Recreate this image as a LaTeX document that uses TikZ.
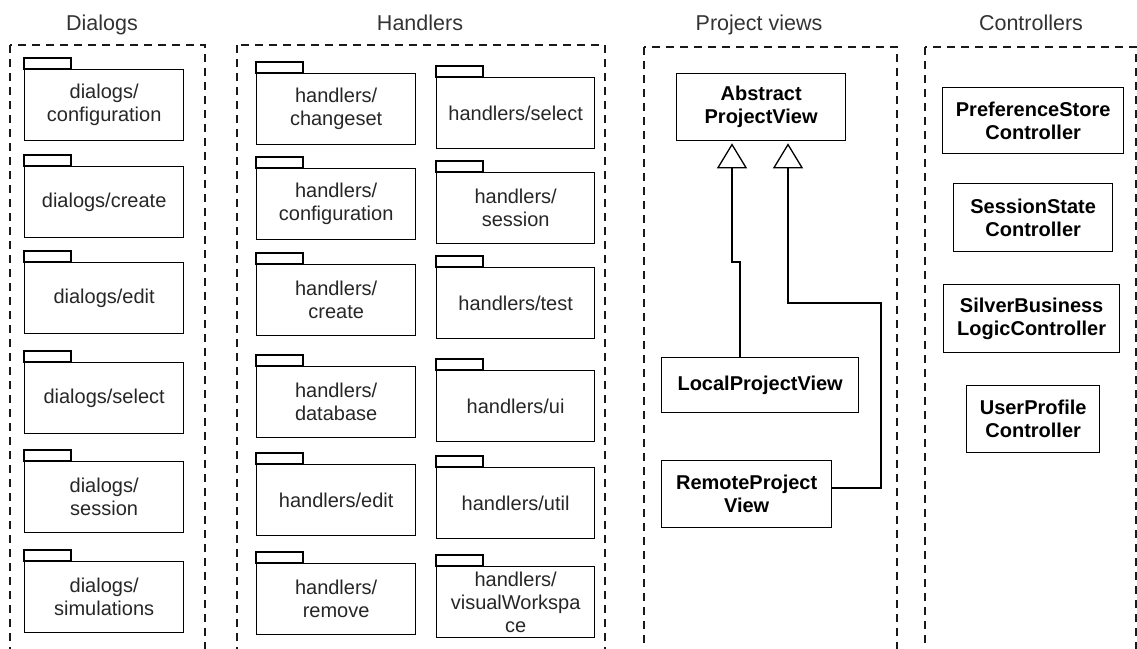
\documentclass[tikz,border=0pt]{standalone}
\usepackage{fontspec}
\setmainfont{Liberation Sans}
\usetikzlibrary{arrows.meta}
\begin{document}
\begin{tikzpicture}[x=1pt,y=-1pt,
  every node/.style={font=\fontsize{20}{23}\selectfont, text=black!85},
  group/.style={draw=black!90, line width=1.3pt, dash pattern=on 8pt off 6pt},
  title/.style={font=\fontsize{21.5}{25}\selectfont, text=black!80, anchor=base},
  pkg/.style={draw, line width=1.3pt, minimum height=71pt, inner sep=0pt,
    align=center, anchor=north west},
  tab/.style={draw, line width=1.3pt},
  cls/.style={draw, line width=1.3pt, inner sep=0pt, align=center,
    anchor=north west, text=black,
    font=\fontsize{20}{23}\selectfont\bfseries},
  inherit/.style={-{Triangle[open, width=30pt, length=25pt, line width=1.3pt]},
    line width=1.3pt, shorten >=2pt}
]
\useasboundingbox (0,0) rectangle (1137,648);
\clip (0,0) rectangle (1137,648);

% group titles
\node[title] (tdlg) at (102,30) {Dialogs};
\node[title] (thnd) at (420,30) {Handlers};
\node[title] (tpv)  at (759,30) {Project views};
\node[title] (tctl) at (1031,30) {Controllers};

% dashed group frames (open at the bottom edge)
\draw[group] (10,45) rectangle (205,670);
\draw[group] (237,45) rectangle (605,670);
\draw[group] (644,47) rectangle (897,670);
\draw[group] (925,47) rectangle (1136,670);

% package folder: name, body corner, width, label
\newcommand\folder[4]{%
  \node[pkg, minimum width=#3] (#1) at (#2) {#4};
  \draw[tab] (#1.north west) rectangle ++(47,-11);
}

% dialogs
\folder{d1}{24,69}{159pt}{dialogs/\\configuration}
\folder{d2}{24,166}{159pt}{dialogs/create}
\folder{d3}{24,262}{159pt}{dialogs/edit}
\folder{d4}{24,362}{159pt}{dialogs/select}
\folder{d5}{24,461}{159pt}{dialogs/\\session}
\folder{d6}{24,561}{159pt}{dialogs/\\simulations}

% handlers, left column
\folder{h1}{256,73}{159pt}{handlers/\\changeset}
\folder{h2}{256,168}{159pt}{handlers/\\configuration}
\folder{h3}{256,264}{159pt}{handlers/\\create}
\folder{h4}{256,366}{159pt}{handlers/\\database}
\folder{h5}{256,464}{159pt}{handlers/edit}
\folder{h6}{256,563}{159pt}{handlers/\\remove}

% handlers, right column
\folder{h7}{436,77}{158pt}{handlers/select}
\folder{h8}{436,172}{158pt}{handlers/\\session}
\folder{h9}{436,267}{158pt}{handlers/test}
\folder{h10}{436,370}{158pt}{handlers/ui}
\folder{h11}{436,467}{158pt}{handlers/util}
\folder{h12}{436,566}{158pt}{handlers/\\visualWorkspa\\ce}

% project views
\node[cls, minimum width=169pt, minimum height=67pt] (abs) at (676,73) {Abstract\\ProjectView};
\node[cls, minimum width=197pt, minimum height=55pt] (local) at (661,357) {LocalProjectView};
\node[cls, minimum width=170pt, minimum height=67pt] (remote) at (661,460) {RemoteProject\\View};

\coordinate (j1) at (740,262);
\coordinate (j2) at (732,262);
\draw[inherit] (j1 |- local.north) -- (j1) -- (j2) -- (j2 |- abs.south);

\coordinate (k1) at (881,488);
\coordinate (k2) at (881,303);
\coordinate (k3) at (788,303);
\draw[inherit] (remote.east |- k1) -- (k1) -- (k2) -- (k3) -- (k3 |- abs.south);

% controllers
\node[cls, minimum width=181pt, minimum height=66pt] (c1) at (942,87) {PreferenceStore\\Controller};
\node[cls, minimum width=159pt, minimum height=68pt] (c2) at (953,183) {SessionState\\Controller};
\node[cls, minimum width=176pt, minimum height=68pt] (c3) at (943,284) {SilverBusiness\\LogicController};
\node[cls, minimum width=133pt, minimum height=67pt] (c4) at (966,385) {UserProfile\\Controller};
\end{tikzpicture}
\end{document}
